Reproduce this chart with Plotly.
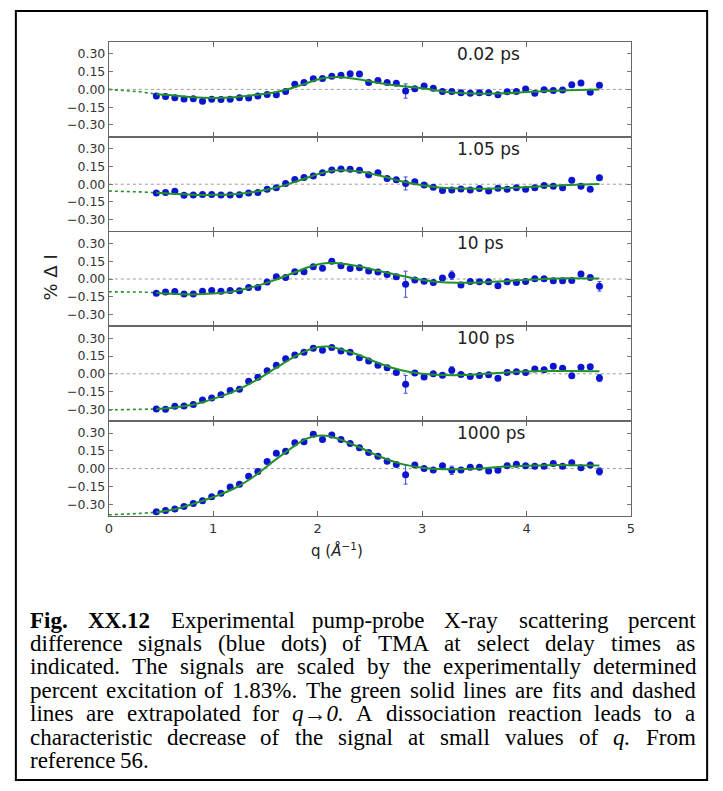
import plotly.graph_objects as go

# ---------------- data ----------------
Q = [0.455, 0.543, 0.632, 0.720, 0.809, 0.897, 0.985, 1.074, 1.162, 1.251,
     1.339, 1.427, 1.516, 1.604, 1.693, 1.781, 1.869, 1.958, 2.046, 2.135,
     2.223, 2.311, 2.400, 2.488, 2.577, 2.665, 2.753, 2.842, 2.930, 3.019,
     3.107, 3.195, 3.284, 3.372, 3.461, 3.549, 3.637, 3.726, 3.814, 3.903,
     3.991, 4.079, 4.168, 4.256, 4.345, 4.433, 4.521, 4.610, 4.698]

LABELS = ["0.02 ps", "1.05 ps", "10 ps", "100 ps", "1000 ps"]

SIG_002 = [-0.055, -0.060, -0.070, -0.080, -0.078, -0.100, -0.083, -0.086, -0.083, -0.070,
           -0.072, -0.055, -0.043, -0.046, -0.017, 0.043, 0.058, 0.090, 0.092, 0.110,
           0.120, 0.132, 0.130, 0.058, 0.075, 0.058, 0.052, -0.014, 0.006, 0.029,
           0.009, -0.017, -0.017, -0.029, -0.032, -0.029, -0.029, -0.046, -0.020, -0.017,
           0.003, -0.032, -0.003, -0.009, -0.006, 0.040, 0.055, -0.023, 0.035]
SIG_105 = [-0.074, -0.069, -0.060, -0.094, -0.092, -0.086, -0.086, -0.092, -0.092, -0.089,
           -0.074, -0.069, -0.043, -0.029, 0.006, 0.040, 0.057, 0.069, 0.097, 0.120,
           0.129, 0.126, 0.117, 0.080, 0.097, 0.049, 0.037, 0.006, 0.020, -0.006,
           -0.026, -0.054, -0.049, -0.040, -0.049, -0.037, -0.057, -0.034, -0.043, -0.031,
           -0.043, -0.029, -0.011, -0.017, -0.029, 0.034, -0.017, -0.043, 0.054]
SIG_10 = [-0.120, -0.109, -0.106, -0.126, -0.126, -0.103, -0.097, -0.103, -0.097, -0.100,
          -0.071, -0.071, -0.026, 0.018, 0.012, 0.062, 0.062, 0.103, 0.091, 0.150,
          0.112, 0.088, 0.094, 0.068, 0.059, 0.038, 0.018, -0.044, -0.009, -0.018,
          -0.029, 0.009, 0.032, -0.050, -0.021, -0.024, -0.024, -0.056, -0.024, -0.029,
          -0.021, 0.003, 0.003, -0.015, -0.015, -0.012, 0.042, 0.012, -0.062]
SIG_100 = [-0.297, -0.300, -0.274, -0.271, -0.260, -0.222, -0.205, -0.176, -0.141, -0.130,
           -0.063, -0.029, 0.026, 0.072, 0.127, 0.159, 0.182, 0.216, 0.199, 0.222,
           0.193, 0.182, 0.136, 0.107, 0.072, 0.052, 0.012, -0.089, 0.006, -0.026,
           0.000, -0.012, 0.029, -0.006, -0.023, -0.014, -0.009, -0.038, 0.012, 0.017,
           0.012, 0.040, 0.035, 0.063, 0.046, -0.017, 0.055, 0.060, -0.036]
SIG_1000 = [-0.365, -0.354, -0.340, -0.320, -0.294, -0.272, -0.238, -0.207, -0.156, -0.133,
            -0.065, -0.025, 0.059, 0.130, 0.147, 0.218, 0.226, 0.289, 0.246, 0.283,
            0.246, 0.212, 0.176, 0.136, 0.105, 0.062, 0.034, -0.051, 0.031, 0.000,
            -0.011, 0.023, -0.014, -0.011, 0.011, 0.011, -0.020, -0.014, 0.025, 0.037,
            0.025, 0.020, 0.020, 0.042, 0.020, 0.050, 0.007, 0.030, -0.024]

ERR_002 = [0.012] * 27 + [0.060] + [0.012] * 21
ERR_105 = [0.012] * 27 + [0.055] + [0.012] * 21
ERR_10 = [0.012] * 27 + [0.110] + [0.012] * 4 + [0.035] + [0.012] * 15 + [0.040]
ERR_100 = [0.012] * 27 + [0.075] + [0.012] * 4 + [0.030] + [0.012] * 15 + [0.030]
ERR_1000 = [0.012] * 27 + [0.080] + [0.012] * 4 + [0.035] + [0.012] * 15 + [0.030]

FIT_Q = [0.455, 0.6, 0.8, 1.0, 1.2, 1.4, 1.6, 1.8, 1.9, 2.0, 2.1, 2.2,
         2.4, 2.6, 2.8, 3.0, 3.2, 3.4, 3.6, 3.8, 4.0, 4.2, 4.4, 4.698]
FIT_002 = [-0.040, -0.050, -0.066, -0.072, -0.066, -0.048, -0.022, 0.025, 0.054, 0.083, 0.100, 0.105,
           0.083, 0.052, 0.028, 0.010, -0.018, -0.033, -0.037, -0.033, -0.022, -0.013, -0.007, 0.000]
FIT_105 = [-0.072, -0.080, -0.088, -0.090, -0.084, -0.064, -0.030, 0.025, 0.055, 0.085, 0.108, 0.118,
           0.108, 0.072, 0.025, -0.008, -0.030, -0.037, -0.038, -0.033, -0.024, -0.015, -0.007, 0.002]
FIT_10 = [-0.115, -0.125, -0.130, -0.123, -0.103, -0.062, -0.005, 0.063, 0.097, 0.122, 0.134, 0.133,
          0.105, 0.065, 0.028, -0.008, -0.028, -0.032, -0.027, -0.018, -0.007, 0.002, 0.007, 0.004]
FIT_100 = [-0.297, -0.288, -0.262, -0.212, -0.148, -0.060, 0.050, 0.155, 0.198, 0.225, 0.230, 0.212,
           0.156, 0.085, 0.030, 0.000, -0.010, -0.010, 0.000, 0.012, 0.020, 0.023, 0.024, 0.022]
FIT_1000 = [-0.368, -0.350, -0.300, -0.240, -0.168, -0.060, 0.078, 0.205, 0.255, 0.277, 0.275, 0.250,
            0.180, 0.100, 0.040, 0.008, -0.005, -0.004, 0.004, 0.017, 0.025, 0.029, 0.029, 0.026]

EXT_Q = [0.0, 0.15, 0.3, 0.455]
EXT_002 = [0.000, -0.008, -0.020, -0.040]
EXT_105 = [-0.058, -0.060, -0.065, -0.072]
EXT_10 = [-0.108, -0.108, -0.110, -0.115]
EXT_100 = [-0.305, -0.303, -0.300, -0.297]
EXT_1000 = [-0.390, -0.385, -0.378, -0.368]

Y_TICKS = [-0.30, -0.15, 0.0, 0.15, 0.30]
Y_TICKTEXT = ["\u22120.30", "\u22120.15", "0.00", "0.15", "0.30"]
X_TICKS = [0, 1, 2, 3, 4, 5]

SIGNALS = [SIG_002, SIG_105, SIG_10, SIG_100, SIG_1000]
ERRORS = [ERR_002, ERR_105, ERR_10, ERR_100, ERR_1000]
FITS = [FIT_002, FIT_105, FIT_10, FIT_100, FIT_1000]
EXTS = [EXT_002, EXT_105, EXT_10, EXT_100, EXT_1000]

CAPTION = [
    [("Fig.", "b"), ("XX.12", "b"), ("Experimental", "r"), ("pump-probe", "r"), ("X-ray", "r"),
     ("scattering", "r"), ("percent", "r")],
    [("difference", "r"), ("signals", "r"), ("(blue", "r"), ("dots)", "r"), ("of", "r"), ("TMA", "r"),
     ("at", "r"), ("select", "r"), ("delay", "r"), ("times", "r"), ("as", "r")],
    [("indicated.", "r"), ("The", "r"), ("signals", "r"), ("are", "r"), ("scaled", "r"), ("by", "r"),
     ("the", "r"), ("experimentally", "r"), ("determined", "r")],
    [("percent", "r"), ("excitation", "r"), ("of", "r"), ("1.83%.", "r"), ("The", "r"), ("green", "r"),
     ("solid", "r"), ("lines", "r"), ("are", "r"), ("fits", "r"), ("and", "r"), ("dashed", "r")],
    [("lines", "r"), ("are", "r"), ("extrapolated", "r"), ("for", "r"), ("q\u21920.", "i"), ("A", "r"),
     ("dissociation", "r"), ("reaction", "r"), ("leads", "r"), ("to", "r"), ("a", "r")],
    [("characteristic", "r"), ("decrease", "r"), ("of", "r"), ("the", "r"), ("signal", "r"), ("at", "r"),
     ("small", "r"), ("values", "r"), ("of", "r"), ("q.", "i"), ("From", "r")],
    [("reference", "r"), ("56.", "r")],
]

# ---------------- layout constants ----------------
W, H = 723, 791
PX_L, PX_R = 106, 634
PX_TOP, PX_BOT = 42, 516
NP = 5
ph = (PX_BOT - PX_TOP) / NP

fig = go.Figure()

BLUE = "#0a14d2"
GREEN = "#23902a"

for k in range(NP):
    n = k + 1
    xa = "x" if n == 1 else f"x{n}"
    ya = "y" if n == 1 else f"y{n}"
    fig.add_trace(go.Scatter(x=[X_TICKS[0], X_TICKS[-1]], y=[0, 0], mode="lines",
                             line=dict(color="#9a9a9a", width=1, dash="dot"),
                             xaxis=xa, yaxis=ya, showlegend=False, hoverinfo="skip"))
    fig.add_trace(go.Scatter(x=EXT_Q, y=EXTS[k], mode="lines",
                             line=dict(color=GREEN, width=1.6, dash="dot"),
                             xaxis=xa, yaxis=ya, showlegend=False))
    fig.add_trace(go.Scatter(x=Q, y=SIGNALS[k], mode="markers",
                             marker=dict(color=BLUE, size=7),
                             error_y=dict(type="data", array=ERRORS[k], color="#3a48e0",
                                          thickness=1, width=2),
                             xaxis=xa, yaxis=ya, showlegend=False))
    fig.add_trace(go.Scatter(x=FIT_Q, y=FITS[k], mode="lines", line_shape="spline",
                             line=dict(color=GREEN, width=2),
                             xaxis=xa, yaxis=ya, showlegend=False))

layout = dict(width=W, height=H, autosize=False,
              margin=dict(l=0, r=0, t=0, b=0, pad=0),
              paper_bgcolor="white", plot_bgcolor="white",
              font=dict(family="DejaVu Sans", color="#333"))

for k in range(NP):
    n = k + 1
    top = PX_TOP + k * ph
    bot = top + ph
    xkey = "xaxis" if n == 1 else f"xaxis{n}"
    ykey = "yaxis" if n == 1 else f"yaxis{n}"
    layout[xkey] = dict(domain=[PX_L / W, PX_R / W], range=[0, 5],
                        anchor="y" if n == 1 else f"y{n}",
                        tickvals=X_TICKS, showticklabels=(n == NP),
                        tickfont=dict(size=13, color="#333"),
                        ticks="inside", ticklen=5, tickcolor="#666",
                        showline=True, linecolor="#666", linewidth=1, mirror="ticks",
                        showgrid=False, zeroline=False)
    layout[ykey] = dict(domain=[1 - bot / H, 1 - top / H], range=[-0.40, 0.40],
                        anchor="x" if n == 1 else f"x{n}",
                        tickvals=Y_TICKS, ticktext=Y_TICKTEXT,
                        tickfont=dict(size=12.5, color="#333"),
                        ticks="inside", ticklen=4, tickcolor="#777",
                        showline=True, linecolor="#666", linewidth=1, mirror="ticks",
                        showgrid=False, zeroline=False)

fig.update_layout(**layout)

ann = []
for k in range(NP):
    n = k + 1
    ann.append(dict(text=LABELS[k], x=3.32, y=0.30, xref="x" if n == 1 else f"x{n}",
                    yref="y" if n == 1 else f"y{n}", xanchor="left", yanchor="middle",
                    showarrow=False, borderpad=0,
                    font=dict(family="DejaVu Sans", size=17, color="#222")))

ann.append(dict(text="% \u0394 I", x=47 / W, y=1 - 277 / H, xref="paper", yref="paper",
                textangle=-90, showarrow=False, xanchor="center", yanchor="middle",
                font=dict(family="DejaVu Sans", size=18, color="#222")))
ann.append(dict(text="q (<i>\u00c5</i><sup>\u22121</sup>)", x=337 / W, y=1 - 550 / H,
                xref="paper", yref="paper", showarrow=False, xanchor="center", yanchor="middle",
                font=dict(family="DejaVu Sans", size=15, color="#222")))

# ---- caption, justified word by word ----
REG = {' ': 250, 'a': 444, 'b': 500, 'c': 444, 'd': 500, 'e': 444, 'f': 333, 'g': 500, 'h': 500,
       'i': 278, 'j': 278, 'k': 500, 'l': 278, 'm': 778, 'n': 500, 'o': 500, 'p': 500, 'q': 500,
       'r': 333, 's': 389, 't': 278, 'u': 500, 'v': 500, 'w': 722, 'x': 500, 'y': 500, 'z': 444,
       'A': 722, 'F': 556, 'M': 889, 'T': 611, 'X': 722, '.': 250, ',': 250, '-': 333, '(': 333,
       ')': 333, '%': 833, '\u2192': 1000}
BOLD = {'F': 611, 'i': 278, 'g': 500, '.': 250, 'X': 722}
ITAL = {'q': 500, '\u2192': 1000, '0': 500, '.': 250}


def wwidth(word, style, fs):
    tot = 0
    for ch in word:
        if style == "b":
            w = BOLD.get(ch, REG.get(ch, 500))
        elif style == "i":
            w = ITAL.get(ch, REG.get(ch, 500))
        else:
            w = REG.get(ch, 500)
        tot += w
    return tot / 1000 * fs


CAP_FS = 23
CAP_L, CAP_R = 25, 698
CAP_Y = [620, 643, 666, 690, 713, 737, 760]
for li, line in enumerate(CAPTION):
    widths = [wwidth(w, s, CAP_FS) for w, s in line]
    if li < len(CAPTION) - 1:
        gap = (CAP_R - CAP_L - sum(widths)) / (len(line) - 1)
    else:
        gap = 0.25 * CAP_FS
    xpos = CAP_L
    for (w, s), wd in zip(line, widths):
        txt = f"<b>{w}</b>" if s == "b" else (f"<i>{w}</i>" if s == "i" else w)
        ann.append(dict(text=txt, x=xpos / W, y=1 - CAP_Y[li] / H, xref="paper", yref="paper",
                        xanchor="left", yanchor="middle", showarrow=False, borderpad=0,
                        font=dict(family="Liberation Serif, Times New Roman, serif",
                                  size=CAP_FS, color="black")))
        xpos += wd + gap

fig.update_layout(annotations=ann)

fig.add_shape(type="rect", xref="paper", yref="paper", x0=12 / W, x1=711 / W,
              y0=1 - 780 / H, y1=1 - 11 / H, line=dict(color="black", width=2))

fig.write_html("out.html")
